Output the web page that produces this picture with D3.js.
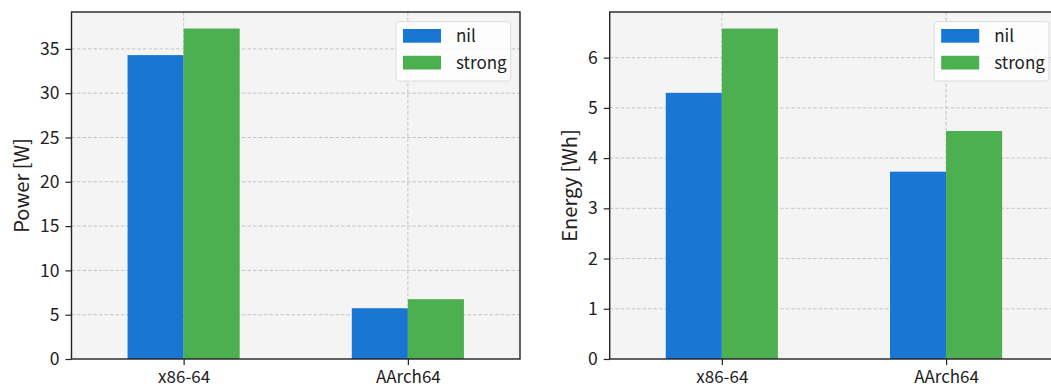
<!DOCTYPE html>
<html>
<head>
<meta charset="utf-8">
<script src="https://cdn.jsdelivr.net/npm/d3@7"></script>
<style>
  html, body { margin: 0; padding: 0; background: #fff; }
  svg { display: block; }
  text { font-family: "Noto Sans CJK JP", "Noto Sans", sans-serif; fill: #222; }
</style>
</head>
<body>
<svg id="chart" width="1051" height="389"></svg>
<script>
const categories = ["x86-64", "AArch64"];
const seriesNames = ["nil", "strong"];
const powerNil = [34.3, 5.73];
const powerStrong = [37.3, 6.75];
const energyNil = [5.30, 3.73];
const energyStrong = [6.58, 4.54];
const powerTicks = [0, 5, 10, 15, 20, 25, 30, 35];
const energyTicks = [0, 1, 2, 3, 4, 5, 6];
const colors = ["#1976d2", "#4caf50"];

const svg = d3.select("#chart");
const fontSize = 17;
const tickFont = 17.5;
const labelFont = 20;

function panel(opts) {
  const { left, right, top, bottom, series, ticks, label, labelX } = opts;
  const g = svg.append("g");
  const maxV = d3.max(series.flat());
  const x = d3.scaleLinear().domain([-0.5, categories.length - 0.5]).range([left, right]);
  const y = d3.scaleLinear().domain([0, maxV * 1.05]).range([bottom, top]);

  // background
  g.append("rect").attr("x", left).attr("y", top)
    .attr("width", right - left).attr("height", bottom - top)
    .attr("fill", "#f4f4f4");

  // grid
  const grid = g.append("g").attr("stroke", "#c0c0c0").attr("stroke-width", 0.9)
    .attr("stroke-dasharray", "3.5,2");
  grid.selectAll("line.h").data(ticks.filter(t => t > 0)).join("line")
    .attr("x1", left).attr("x2", right)
    .attr("y1", d => y(d)).attr("y2", d => y(d));
  grid.selectAll("line.v").data(categories.map((c, i) => i)).join("line")
    .attr("x1", d => x(d)).attr("x2", d => x(d))
    .attr("y1", top).attr("y2", bottom);

  // bars
  const bw = 0.25;
  series.forEach((vals, s) => {
    g.append("g").selectAll("rect").data(vals).join("rect")
      .attr("x", (d, i) => x(i - bw + s * bw))
      .attr("width", x(bw) - x(0))
      .attr("y", d => y(d))
      .attr("height", d => bottom - y(d))
      .attr("fill", colors[s]);
  });

  // y axis
  const yAxis = d3.axisLeft(y).tickValues(ticks).tickFormat(d3.format("d"))
    .tickSize(6).tickPadding(6);
  const ya = g.append("g").attr("transform", `translate(${left},0)`).call(yAxis);
  ya.select(".domain").remove();
  ya.selectAll(".tick line").attr("stroke", "#222").attr("stroke-width", 1.2);
  ya.selectAll(".tick text").attr("font-size", tickFont)
    .attr("font-family", "Noto Sans CJK JP").attr("fill", "#222");

  // x axis
  const xAxis = d3.axisBottom(x).tickValues(categories.map((c, i) => i))
    .tickFormat(i => categories[i]).tickSize(6).tickPadding(5.5);
  const xa = g.append("g").attr("transform", `translate(0,${bottom})`).call(xAxis);
  xa.select(".domain").remove();
  xa.selectAll(".tick line").attr("stroke", "#222").attr("stroke-width", 1.2);
  xa.selectAll(".tick text").attr("font-size", fontSize)
    .attr("font-family", "Noto Sans CJK JP").attr("fill", "#222");

  // spines
  g.append("rect").attr("x", left).attr("y", top)
    .attr("width", right - left).attr("height", bottom - top)
    .attr("fill", "none").attr("stroke", "#222").attr("stroke-width", 1.4);

  // y label
  g.append("text")
    .attr("transform", `translate(${labelX},${(top + bottom) / 2}) rotate(-90)`)
    .attr("text-anchor", "middle").attr("dominant-baseline", "central")
    .attr("font-size", labelFont).text(label);

  // legend
  const lw = 114.7, lh = 59.3;
  const lx = right - 9.3 - lw, ly = top + 9.7;
  const lg = g.append("g");
  lg.append("rect").attr("x", lx).attr("y", ly).attr("width", lw).attr("height", lh)
    .attr("rx", 3).attr("fill", "#ffffff").attr("fill-opacity", 0.8)
    .attr("stroke", "#dcdcdc").attr("stroke-width", 1);
  seriesNames.forEach((name, s) => {
    const iy = ly + 7.3 + s * 26.8;
    lg.append("rect").attr("x", lx + 7).attr("y", iy).attr("width", 38).attr("height", 13.7)
      .attr("fill", colors[s]);
    lg.append("text").attr("x", lx + 60).attr("y", iy + 13.2)
      .attr("font-size", fontSize).text(name);
  });
}

panel({ left: 71.5, right: 520, top: 12, bottom: 359,
  series: [powerNil, powerStrong], ticks: powerTicks, label: "Power [W]", labelX: 20 });
panel({ left: 609.7, right: 1058.2, top: 12, bottom: 359,
  series: [energyNil, energyStrong], ticks: energyTicks, label: "Energy [Wh]", labelX: 568 });
</script>
</body>
</html>
